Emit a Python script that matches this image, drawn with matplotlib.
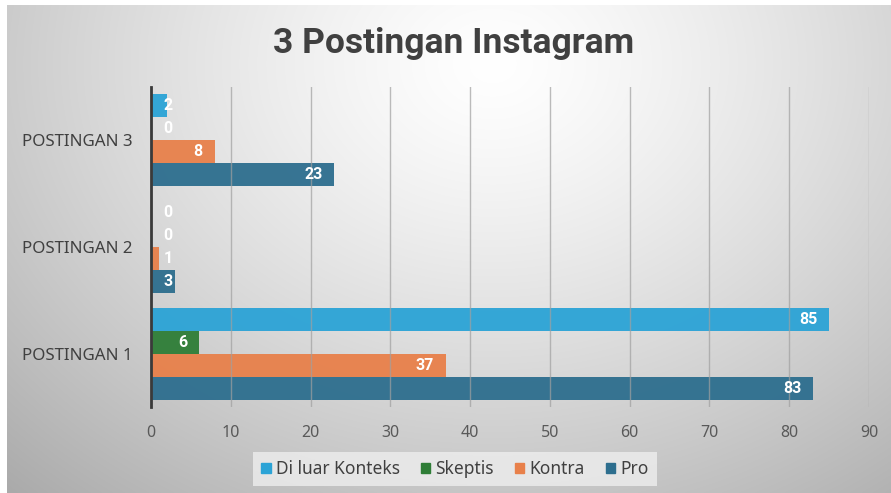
import numpy as np
import matplotlib
matplotlib.use("Agg")
import matplotlib.pyplot as plt
from matplotlib.patches import Patch

categories = ["POSTINGAN 1", "POSTINGAN 2", "POSTINGAN 3"]
series_names = ["Pro", "Kontra", "Skeptis", "Di luar Konteks"]
pro = [83, 3, 23]
kontra = [37, 1, 8]
skeptis = [6, 0, 0]
di_luar = [85, 0, 2]
title = "3 Postingan Instagram"
xticks = [0, 10, 20, 30, 40, 50, 60, 70, 80, 90]

colors = {"Pro": "#2D6E8E", "Kontra": "#E8804A", "Skeptis": "#2E7D36",
          "Di luar Konteks": "#2BA3D6"}

plt.rcParams['font.family'] = ['Noto Sans', 'DejaVu Sans']
BOLD = ['Roboto', 'Liberation Sans', 'DejaVu Sans']

W, H = 891, 493
fig = plt.figure(figsize=(W / 100, H / 100), dpi=100)

# background gradient
bg = fig.add_axes([7 / W, 0, 1 - 7 / W, (H - 5) / H])
bg.set_axis_off()
yy, xx = np.mgrid[0:1:300j, 0:1:500j]
d = np.sqrt(((xx - 0.55) / 0.75) ** 2 + ((yy - 0.12) / 1.1) ** 2)
val = 1.0 - 0.30 * np.clip(d, 0, 1.2) ** 1.3
img = np.dstack([val, val, val])
bg.imshow(np.clip(img, 0, 1), aspect='auto', extent=[0, 1, 1, 0], interpolation='bilinear')
bg.set_xlim(0, 1)
bg.set_ylim(1, 0)

ax = fig.add_axes([151 / W, (H - 407) / H, (869 - 151) / W, 320 / H])
ax.patch.set_alpha(0)
y = np.arange(len(categories))
h = 0.215
series = [("Pro", pro, -1.5), ("Kontra", kontra, -0.5), ("Skeptis", skeptis, 0.5),
          ("Di luar Konteks", di_luar, 1.5)]
for name, vals, off in series:
    ax.barh(y + off * h, vals, height=h, color=colors[name], edgecolor='none',
            alpha=0.95, zorder=2)
    for yi, v in zip(y, vals):
        xr = max(v - 1.5, 2.7)
        ax.text(xr, yi + off * h, str(v), ha='right', va='center', color='white',
                fontsize=11.5, fontweight='bold', family=BOLD, zorder=4)

ax.set_xlim(0, 90)
ax.set_ylim(-0.5, 2.5)
ax.set_xticks(xticks)
ax.set_xticklabels([str(t) for t in xticks], color='#595959', fontsize=11.5)
ax.set_yticks(y)
ax.set_yticklabels(categories, color='#404040', fontsize=12.2)
ax.tick_params(axis='both', length=0)
ax.tick_params(axis='x', pad=13)
ax.tick_params(axis='y', pad=13)
ax.grid(axis='x', color='#a0a0a0', linewidth=1, zorder=3, alpha=0.7)
ax.set_axisbelow(False)
for s in ['top', 'right', 'bottom']:
    ax.spines[s].set_visible(False)
ax.spines['left'].set_color('#3a3a3a')
ax.spines['left'].set_linewidth(2)
ax.spines['left'].set_zorder(5)

fig.text(454 / W, 1 - 53 / H, title, ha='center', va='baseline', fontsize=25.5,
         fontweight='bold', color='#404040', family=BOLD)

handles = [Patch(color=colors[n]) for n in ["Di luar Konteks", "Skeptis", "Kontra", "Pro"]]
leg = fig.legend(handles, ["Di luar Konteks", "Skeptis", "Kontra", "Pro"],
                 loc='center', bbox_to_anchor=(455 / W, 1 - 469 / H), ncol=4,
                 frameon=True, fontsize=12.5, handlelength=0.55, handleheight=0.55,
                 handletextpad=0.3, columnspacing=1.2, borderpad=0.45)
leg.get_frame().set_facecolor('#eeeeee')
leg.get_frame().set_edgecolor('none')
leg.get_frame().set_alpha(0.8)
leg.get_frame().set_boxstyle('square', pad=0.0)
for t in leg.get_texts():
    t.set_color('#404040')

fig.savefig("out.png", dpi=100)
